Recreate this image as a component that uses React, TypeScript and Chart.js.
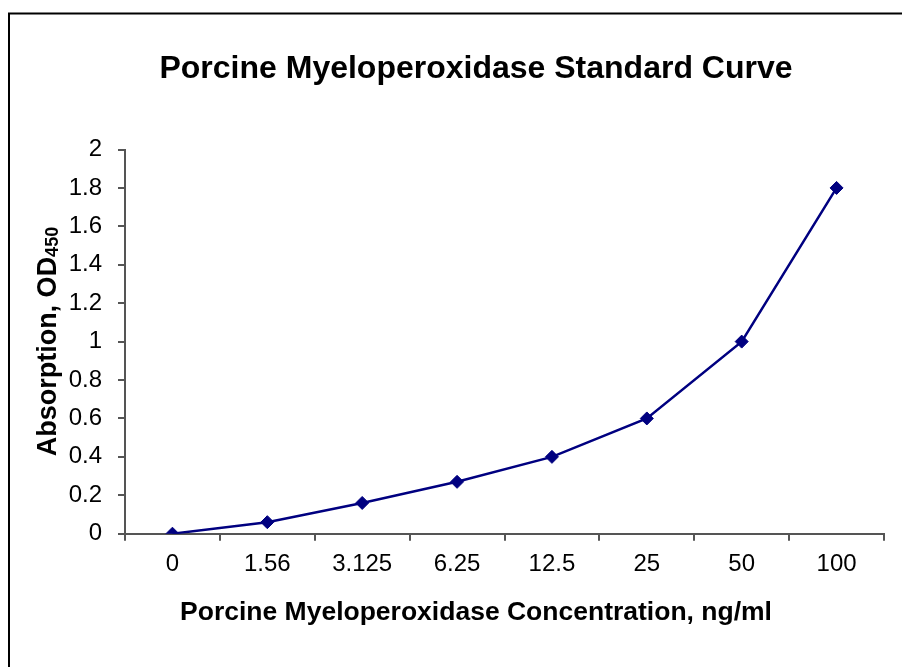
import React, { useEffect, useRef } from "react";
import { Chart, registerables } from "chart.js";

Chart.register(...registerables);

const categories = ["0", "1.56", "3.125", "6.25", "12.5", "25", "50", "100"];
const absorbance = [0, 0.06, 0.16, 0.27, 0.4, 0.6, 1.0, 1.8];
const yMin = 0;
const yMax = 2;
const yStep = 0.2;
const chartTitle = "Porcine Myeloperoxidase Standard Curve";
const xAxisTitle = "Porcine Myeloperoxidase Concentration, ng/ml";
const yAxisTitleMain = "Absorption, OD";
const yAxisTitleSub = "450";

const FONT = "'Liberation Sans', Arial, Helvetica, sans-serif";
const AXIS_COLOR = "#555555";
const LINE_COLOR = "#000080";

const framePlugin = {
  id: "frame",
  beforeDraw(chart: any) {
    const ctx = chart.ctx;
    ctx.save();
    ctx.fillStyle = "#ffffff";
    ctx.fillRect(0, 0, chart.width, chart.height);
    ctx.strokeStyle = "#000000";
    ctx.lineWidth = 2;
    ctx.strokeRect(9, 13.5, 1000, 1000);
    ctx.restore();
  },
};

const yTitlePlugin = {
  id: "yTitleSub",
  afterDraw(chart: any) {
    const ctx = chart.ctx;
    const area = chart.chartArea;
    const cy = (area.top + area.bottom) / 2;
    ctx.save();
    ctx.translate(55.5, cy);
    ctx.rotate(-Math.PI / 2);
    ctx.fillStyle = "#000000";
    ctx.textBaseline = "alphabetic";
    ctx.textAlign = "left";
    const mainFont = `bold 27px ${FONT}`;
    const subFont = `bold 18px ${FONT}`;
    ctx.font = mainFont;
    const wMain = ctx.measureText(yAxisTitleMain).width;
    ctx.font = subFont;
    const wSub = ctx.measureText(yAxisTitleSub).width;
    const start = -(wMain + wSub) / 2;
    ctx.font = mainFont;
    ctx.fillText(yAxisTitleMain, start, 0);
    ctx.font = subFont;
    ctx.fillText(yAxisTitleSub, start + wMain, 2.5);
    ctx.restore();
  },
};

export default function App() {
  const canvasRef = useRef<HTMLCanvasElement | null>(null);

  useEffect(() => {
    if (!canvasRef.current) return;
    const chart = new Chart(canvasRef.current, {
      type: "line",
      data: {
        labels: categories,
        datasets: [
          {
            data: absorbance,
            borderColor: LINE_COLOR,
            backgroundColor: LINE_COLOR,
            borderWidth: 2.5,
            pointStyle: "rectRot",
            pointRadius: 6.5,
            pointBorderWidth: 1,
            pointBackgroundColor: LINE_COLOR,
            pointBorderColor: LINE_COLOR,
            tension: 0,
            fill: false,
          },
        ],
      },
      options: {
        responsive: false,
        animation: false,
        devicePixelRatio: 1,
        layout: { padding: { left: 68, right: 18, top: 0, bottom: 0 } },
        plugins: {
          legend: { display: false },
          tooltip: { enabled: false },
          title: {
            display: true,
            text: chartTitle,
            color: "#000000",
            font: { family: FONT, size: 32, weight: "bold" },
            padding: { top: 49.8, bottom: 61.3 },
          },
          subtitle: {
            display: true,
            position: "bottom",
            text: xAxisTitle,
            color: "#000000",
            font: { family: FONT, size: 26.5, weight: "bold" },
            padding: { top: 5, bottom: 38.1 },
          },
        },
        scales: {
          x: {
            type: "category",
            offset: true,
            grid: {
              display: true,
              offset: true,
              drawOnChartArea: false,
              drawTicks: true,
              tickLength: 7,
              color: AXIS_COLOR,
              lineWidth: 2,
            },
            border: { display: true, color: AXIS_COLOR, width: 2 },
            ticks: {
              color: "#000000",
              font: { family: FONT, size: 24 },
              padding: 9,
              maxRotation: 0,
              autoSkip: false,
            },
            afterFit(scale: any) {
              scale.height = 58.4;
            },
          },
          y: {
            min: yMin,
            max: yMax,
            grid: {
              display: true,
              drawOnChartArea: false,
              drawTicks: true,
              tickLength: 7,
              color: AXIS_COLOR,
              lineWidth: 2,
            },
            border: { display: true, color: AXIS_COLOR, width: 2 },
            ticks: {
              stepSize: yStep,
              color: "#000000",
              font: { family: FONT, size: 24 },
              padding: 16,
              callback: (v: any) => String(Math.round(Number(v) * 10) / 10),
            },
            afterFit(scale: any) {
              scale.width = 57;
            },
          },
        },
      },
      plugins: [framePlugin, yTitlePlugin],
    });
    return () => chart.destroy();
  }, []);

  return (
    <canvas
      ref={canvasRef}
      width={902}
      height={667}
      style={{ position: "absolute", left: 0, top: 0, display: "block" }}
    />
  );
}
